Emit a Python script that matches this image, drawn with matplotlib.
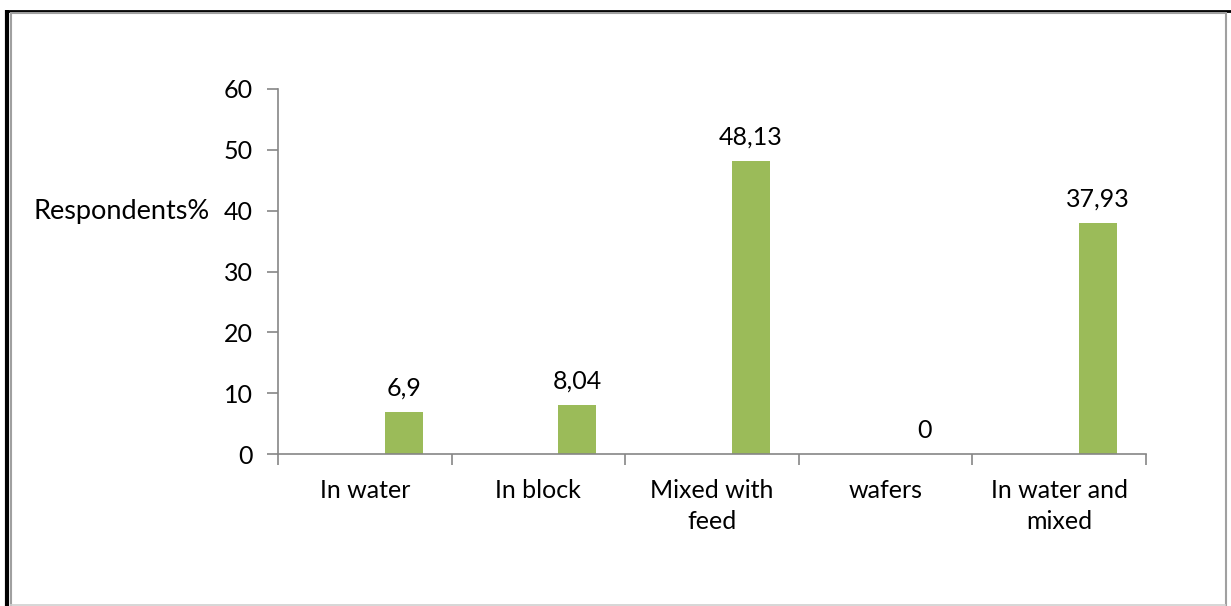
import matplotlib
matplotlib.use("Agg")
import matplotlib.pyplot as plt
from matplotlib.lines import Line2D

# values
categories = ["In water", "In block", "Mixed with\nfeed", "wafers", "In water and\nmixed"]
respondents = [6.9, 8.04, 48.13, 0, 37.93]
value_labels = ["6,9", "8,04", "48,13", "0", "37,93"]
yticks = [0, 10, 20, 30, 40, 50, 60]

BAR = "#9bbb59"
AXIS = "#868686"
FONT = "Lato"
FS = 18

W, H = 1231, 606
fig = plt.figure(figsize=(W / 100, H / 100), dpi=100)

# frame: black shadow on left/top, grey box inside
def fline(x0, y0, x1, y1, color, lw):
    fig.add_artist(Line2D([x0 / W, x1 / W], [1 - y0 / H, 1 - y1 / H],
                          color=color, lw=lw, transform=fig.transFigure,
                          solid_capstyle="butt"))

fline(7, 10, 7, 606, "black", 3.0)
fline(5, 11, 1231, 11, "black", 2.0)
fline(11, 13, 11, 606, "#a0a0a0", 1.5)
fline(10, 13, 1226, 13, "#a0a0a0", 1.5)
fline(1226, 12, 1226, 606, "#a0a0a0", 1.5)
fline(10, 604.5, 1226, 604.5, "#d0d0d0", 1.2)

ax = fig.add_axes([278 / W, 1 - 454 / H, (1146 - 278) / W, (454 - 89) / H])
x = list(range(1, len(categories) + 1))
bars = ax.bar([i + 0.224 for i in x], respondents, width=0.218, color=BAR, zorder=2)

for b, lab in zip(bars, value_labels):
    ax.annotate(lab, (b.get_x() + b.get_width() / 2, b.get_height()),
                xytext=(0, 9), textcoords="offset points", ha="center", va="bottom",
                fontsize=FS, family=FONT, color="black")

ax.set_xlim(0.5, len(categories) + 0.5)
ax.set_ylim(0, 60)
ax.set_yticks(yticks)
ax.set_yticklabels([str(t) for t in yticks], fontsize=FS, family=FONT)
ax.set_xticks([i + 0.5 for i in [0] + x])
ax.set_xticklabels([])
ax.set_xticks(x, minor=True)
ax.set_xticklabels(categories, minor=True, fontsize=FS, family=FONT, linespacing=1.4)
ax.tick_params(axis="x", which="minor", length=0, pad=18)
ax.tick_params(axis="x", which="major", length=8, width=1.2, color=AXIS, direction="out")
ax.tick_params(axis="y", length=8, width=1.2, color=AXIS, direction="out", pad=10)
for s in ["top", "right"]:
    ax.spines[s].set_visible(False)
for s in ["left", "bottom"]:
    ax.spines[s].set_color(AXIS)
    ax.spines[s].set_linewidth(1.2)

fig.text(33 / W, 1 - 212 / H, "Respondents%", fontsize=19.5, family=FONT,
         ha="left", va="center")

fig.savefig("out.png", dpi=100)
